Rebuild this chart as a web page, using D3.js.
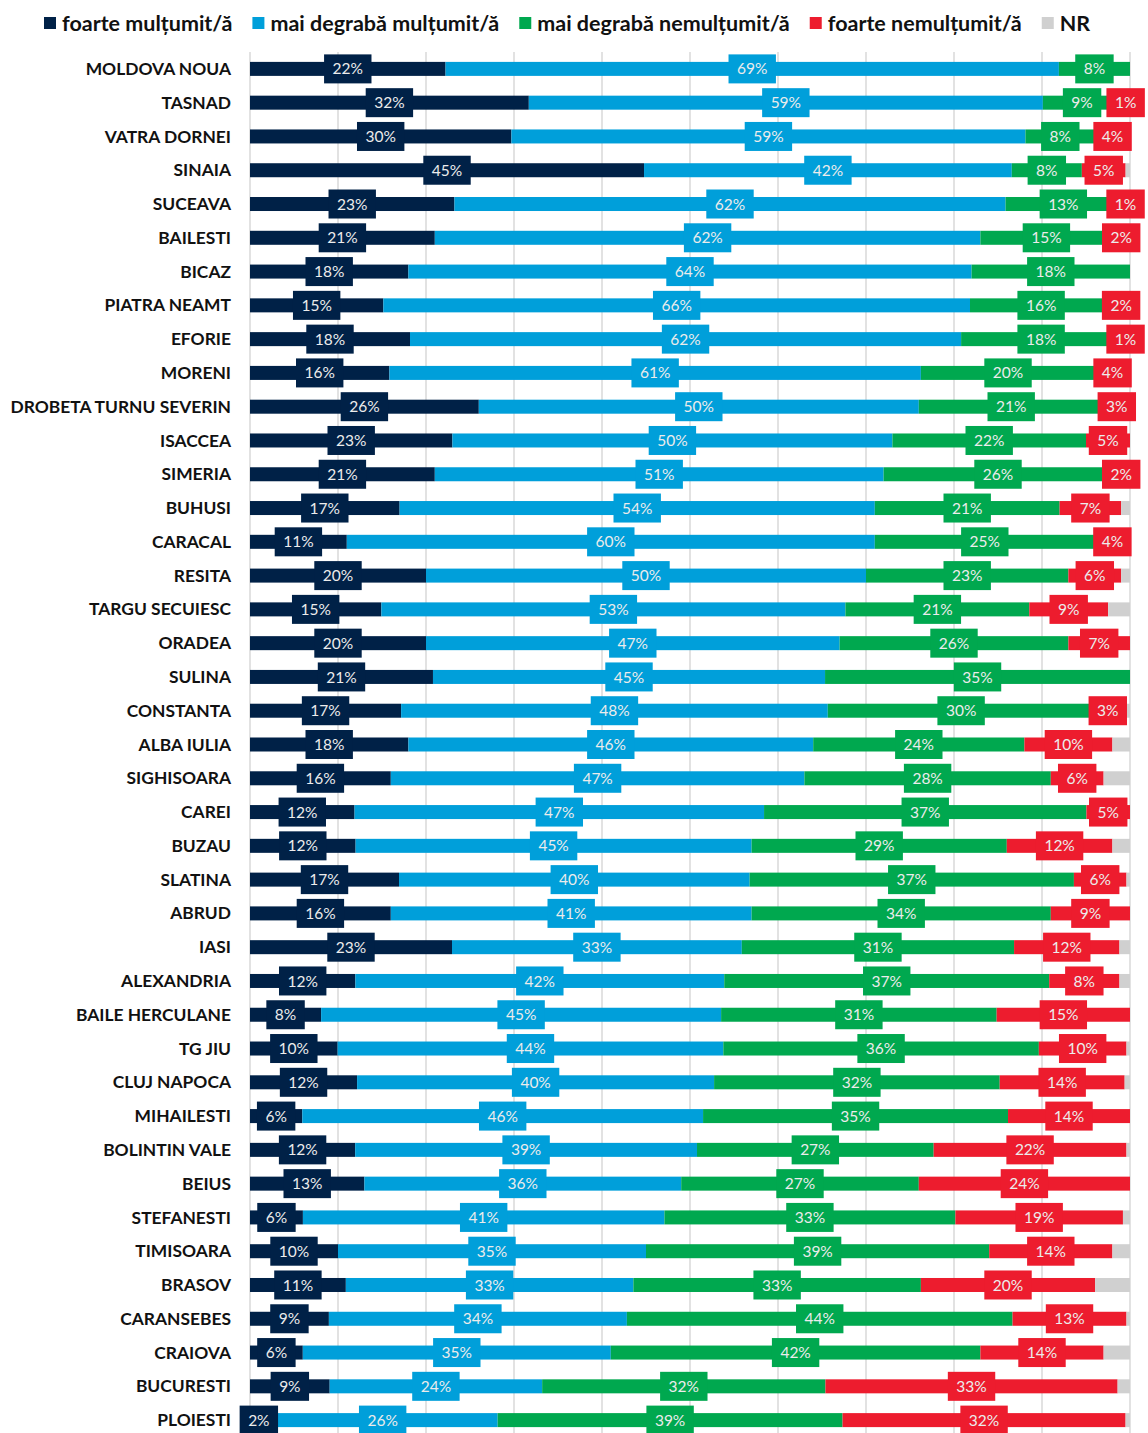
<!DOCTYPE html>
<html>
<head>
<meta charset="utf-8">
<script src="https://cdn.jsdelivr.net/npm/d3@7"></script>
<style>
    body { margin: 0; background: #fff; }
    svg { display: block; font-family: Lato, "Open Sans", sans-serif; }
</style>
</head>
<body>
<div id="chart"></div>
<script>
// categories, top to bottom
var cities = [
    'MOLDOVA NOUA', 'TASNAD', 'VATRA DORNEI', 'SINAIA', 'SUCEAVA', 'BAILESTI', 'BICAZ',
    'PIATRA NEAMT', 'EFORIE', 'MORENI', 'DROBETA TURNU SEVERIN', 'ISACCEA', 'SIMERIA',
    'BUHUSI', 'CARACAL', 'RESITA', 'TARGU SECUIESC', 'ORADEA', 'SULINA', 'CONSTANTA',
    'ALBA IULIA', 'SIGHISOARA', 'CAREI', 'BUZAU', 'SLATINA', 'ABRUD', 'IASI', 'ALEXANDRIA',
    'BAILE HERCULANE', 'TG JIU', 'CLUJ NAPOCA', 'MIHAILESTI', 'BOLINTIN VALE', 'BEIUS',
    'STEFANESTI', 'TIMISOARA', 'BRASOV', 'CARANSEBES', 'CRAIOVA', 'BUCURESTI', 'PLOIESTI'
];

var foarteMultumit = [22, 32, 30, 45, 23, 21, 18, 15, 18, 16, 26, 23, 21, 17, 11, 20, 15, 20, 21, 17,
    18, 16, 12, 12, 17, 16, 23, 12, 8, 10, 12, 6, 12, 13, 6, 10, 11, 9, 6, 9, 2];
var maiDegrabaMultumit = [69, 59, 59, 42, 62, 62, 64, 66, 62, 61, 50, 50, 51, 54, 60, 50, 53, 47, 45, 48,
    46, 47, 47, 45, 40, 41, 33, 42, 45, 44, 40, 46, 39, 36, 41, 35, 33, 34, 35, 24, 26];
var maiDegrabaNemultumit = [8, 9, 8, 8, 13, 15, 18, 16, 18, 20, 21, 22, 26, 21, 25, 23, 21, 26, 35, 30,
    24, 28, 37, 29, 37, 34, 31, 37, 31, 36, 32, 35, 27, 27, 33, 39, 33, 44, 42, 32, 39];
var foarteNemultumit = [0, 1, 4, 5, 1, 2, 0, 2, 1, 4, 3, 5, 2, 7, 4, 6, 9, 7, 0, 3,
    10, 6, 5, 12, 6, 9, 12, 8, 15, 10, 14, 14, 22, 24, 19, 14, 20, 13, 14, 33, 32];
// NR is not labelled, widths estimated from the grey ends
var nr = [0, 0, 0, 0.5, 0, 0, 0, 0, 0, 0, 0, 0, 0, 1, 0, 1, 2.5, 0, 0, 1,
    2, 3, 0, 2, 0.4, 0, 1.2, 1.2, 0, 0.4, 0.6, 0, 0.4, 0, 0.8, 2, 4, 0.4, 3, 1.4, 0.5];

var seriesNames = ['foarte mulțumit/ă', 'mai degrabă mulțumit/ă', 'mai degrabă nemulțumit/ă', 'foarte nemulțumit/ă', 'NR'];
var seriesColors = ['#002147', '#009fda', '#00a84f', '#ed1c2e', '#d0d0d0'];

var chartW = 1148,
    chartH = 1433,
    plotLeft = 250,
    plotRight = 1130,
    plotTop = 52,
    plotBottom = 1437;

var keys = ['a', 'b', 'c', 'd', 'e'];
var rows = cities.map(function(c, i) {
    return {
        city: c,
        a: foarteMultumit[i],
        b: maiDegrabaMultumit[i],
        c: maiDegrabaNemultumit[i],
        d: foarteNemultumit[i],
        e: nr[i]
    };
});

var stacked = d3.stack().keys(keys).offset(d3.stackOffsetExpand)(rows);

var x = d3.scaleLinear().domain([0, 1]).range([plotLeft, plotRight]);
var y = d3.scaleBand().domain(cities).range([plotTop, plotBottom]);

var svg = d3.select('#chart').append('svg')
    .attr('width', chartW)
    .attr('height', chartH);

// vertical gridlines
svg.append('g')
    .selectAll('line')
    .data(d3.range(0, 1.0001, 0.1))
    .join('line')
    .attr('x1', function(d) { return x(d); })
    .attr('x2', function(d) { return x(d); })
    .attr('y1', plotTop)
    .attr('y2', chartH)
    .attr('stroke', '#d9d9d9')
    .attr('stroke-width', 1.5);

var barH = 14,
    boxH = 29;

// bars
svg.append('g')
    .selectAll('g')
    .data(stacked)
    .join('g')
    .attr('fill', function(d, i) { return seriesColors[i]; })
    .selectAll('rect')
    .data(function(d) { return d; })
    .join('rect')
    .attr('x', function(d) { return x(d[0]); })
    .attr('width', function(d) { return Math.max(0, x(d[1]) - x(d[0])); })
    .attr('y', function(d) { return y(d.data.city) + y.bandwidth() / 2 - barH / 2; })
    .attr('height', barH);

// value labels with boxes
stacked.slice(0, 4).forEach(function(layer, i) {
    var g = svg.append('g');
    layer.forEach(function(d) {
        var v = d.data[keys[i]];
        if (!v) return;
        var cx = (x(d[0]) + x(d[1])) / 2,
            cy = y(d.data.city) + y.bandwidth() / 2;
        var box = g.append('rect')
            .attr('fill', seriesColors[i]);
        var t = g.append('text')
            .attr('x', cx)
            .attr('y', cy)
            .attr('dy', '0.36em')
            .attr('text-anchor', 'middle')
            .attr('fill', '#ececec')
            .style('font-size', '15.5px')
            .text(v + '%');
        var w = t.node().getComputedTextLength() + 17;
        box.attr('x', cx - w / 2)
            .attr('y', cy - boxH / 2)
            .attr('width', w)
            .attr('height', boxH);
    });
});

// category labels
svg.append('g')
    .selectAll('text')
    .data(cities)
    .join('text')
    .attr('x', 231)
    .attr('y', function(d) { return y(d) + y.bandwidth() / 2; })
    .attr('dy', '0.35em')
    .attr('text-anchor', 'end')
    .attr('fill', '#111')
    .style('font-size', '17.4px')
    .style('font-weight', 'bold')
    .text(function(d) { return d; });

// legend
var legend = svg.append('g'),
    lx = 44;
seriesNames.forEach(function(name, i) {
    legend.append('rect')
        .attr('x', lx)
        .attr('y', 17)
        .attr('width', 12)
        .attr('height', 12)
        .attr('fill', seriesColors[i]);
    var t = legend.append('text')
        .attr('x', lx + 18)
        .attr('y', 31)
        .attr('fill', '#111')
        .style('font-size', '21.5px')
        .style('font-weight', 'bold')
        .text(name);
    lx += 18 + t.node().getComputedTextLength() + 20;
});
</script>
</body>
</html>
